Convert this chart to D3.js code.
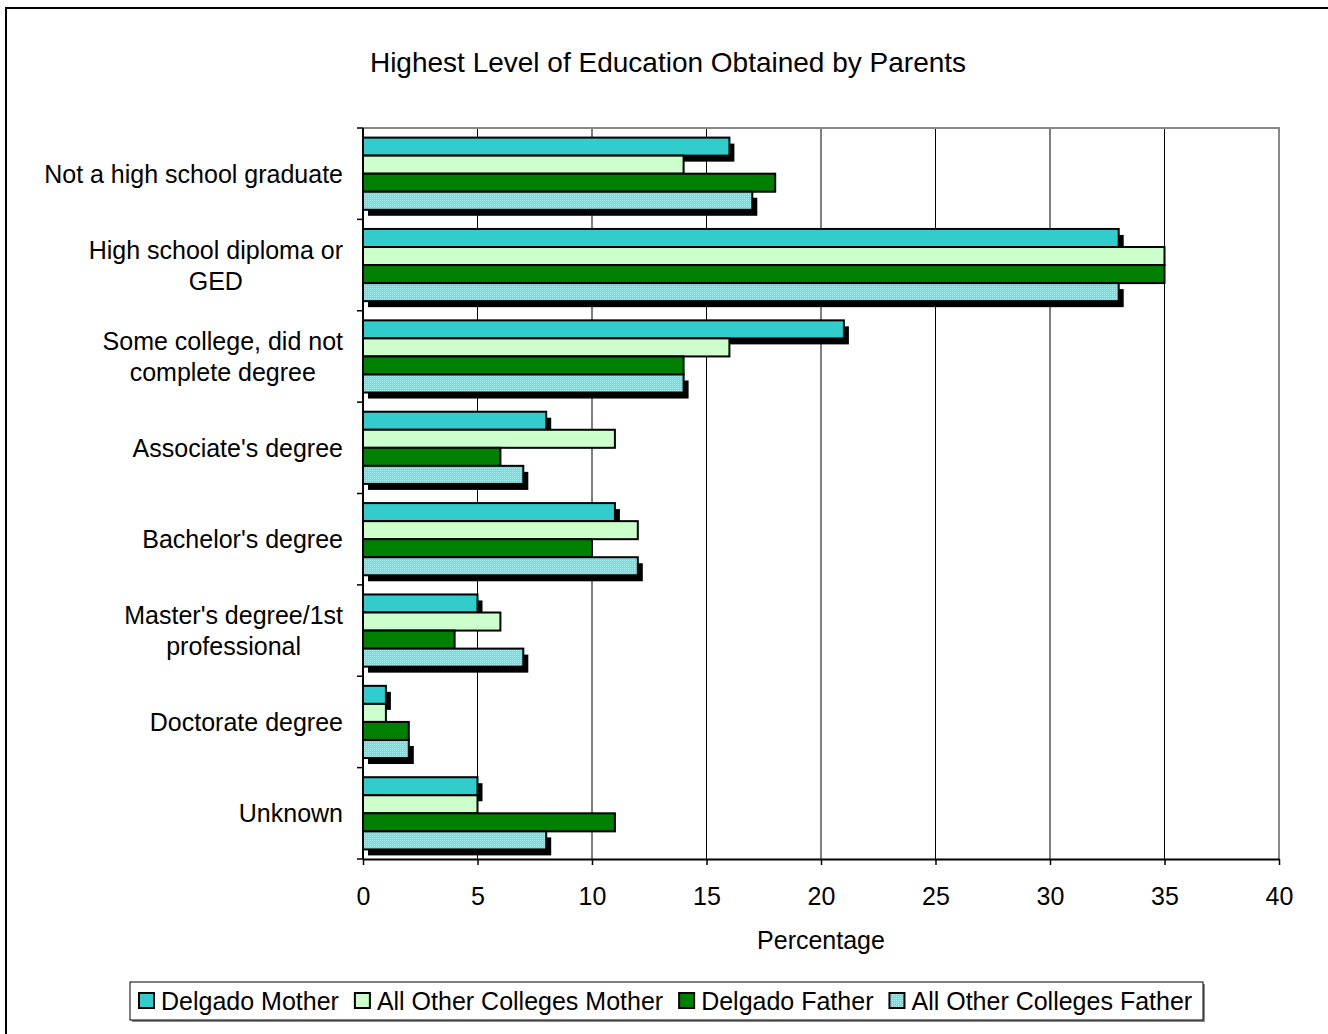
<!DOCTYPE html>
<html><head><meta charset="utf-8">
<script src="https://cdn.jsdelivr.net/npm/d3@7"></script>
<style>body{margin:0;background:#fff}svg{display:block;font-family:Arial,"Liberation Sans",sans-serif}</style>
</head><body>
<svg id="c" width="1328" height="1034"></svg>
<script>
const title = "Highest Level of Education Obtained by Parents";
const categories = [
  ["Not a high school graduate"],
  ["High school diploma or","GED"],
  ["Some college, did not","complete degree"],
  ["Associate's degree"],
  ["Bachelor's degree"],
  ["Master's degree/1st","professional"],
  ["Doctorate degree"],
  ["Unknown"]
];
const seriesNames = ["Delgado Mother","All Other Colleges Mother","Delgado Father","All Other Colleges Father"];
const delgadoMother = [16,33,21,8,11,5,1,5];
const otherMother   = [14,35,16,11,12,6,1,5];
const delgadoFather = [18,35,14,6,10,4,2,11];
const otherFather   = [17,33,14,7,12,7,2,8];
const xTicks = [0,5,10,15,20,25,30,35,40];
const xTitle = "Percentage";

const series = [delgadoMother, otherMother, delgadoFather, otherFather];
const fills = ["#33CCCC","#CCFFCC","#008000","url(#dots)"];
const shadowed = [true,false,false,true];
const FS = 25;

const svg = d3.select("#c");
const defs = svg.append("defs");
const pat = defs.append("pattern").attr("id","dots").attr("width",2).attr("height",2).attr("patternUnits","userSpaceOnUse");
pat.append("rect").attr("width",2).attr("height",2).attr("fill","#6ee0e0").attr("shape-rendering","crispEdges");
pat.append("rect").attr("width",1).attr("height",1).attr("fill","#a4f0f0").attr("shape-rendering","crispEdges");

// outer chart border
svg.append("rect").attr("x",6).attr("y",8).attr("width",1400).attr("height",1100)
  .attr("fill","none").attr("stroke","#000").attr("stroke-width",2);

const L=363, R=1279, T=128, B=859;
const x = d3.scaleLinear().domain([0,40]).range([L,R]);
const y = d3.scaleBand().domain(d3.range(categories.length)).range([T,B]).paddingInner(0.21).paddingOuter(0.105);
const ys = d3.scaleBand().domain(d3.range(4)).range([0,y.bandwidth()]);

// title
svg.append("text").attr("x",668).attr("y",72).attr("text-anchor","middle").attr("font-size",28).text(title);

// gridlines
svg.append("g").selectAll("line").data(xTicks.slice(1,-1)).join("line")
  .attr("x1",d=>x(d)).attr("x2",d=>x(d)).attr("y1",T).attr("y2",B).attr("stroke","#000").attr("stroke-width",1);
// plot border top/right gray
svg.append("path").attr("d",`M${L},${T}H${R}V${B}`).attr("fill","none").attr("stroke","#888").attr("stroke-width",2);

// bars
const g = svg.append("g");
series.forEach((vals,si)=>{
  const sg = g.append("g");
  vals.forEach((v,ci)=>{
    const yy = y(ci)+ys(si);
    if(shadowed[si]) {
      sg.append("rect").attr("x",x(0)+5).attr("y",yy+6).attr("width",x(v)-x(0)).attr("height",ys.bandwidth()).attr("fill","#000");
    }
  });
  vals.forEach((v,ci)=>{
    const yy = y(ci)+ys(si);
    sg.append("rect").attr("x",x(0)).attr("y",yy).attr("width",x(v)-x(0)).attr("height",ys.bandwidth())
      .attr("fill",fills[si]).attr("stroke","#000").attr("stroke-width",2);
  });
});

// axes
const xa = svg.append("g").attr("transform",`translate(0,${B})`)
  .call(d3.axisBottom(x).tickValues(xTicks).tickSize(6).tickSizeOuter(0));
xa.select(".domain").attr("stroke","#000").attr("stroke-width",2);
xa.selectAll(".tick line").attr("stroke","#000").attr("stroke-width",1.5);
xa.selectAll(".tick text").attr("font-size",FS).attr("font-family","Arial, Liberation Sans, sans-serif")
  .attr("fill","#000").attr("y",46).attr("dy",0);

const yTickPos = d3.range(categories.length+1).map(i=>T+(B-T)*i/categories.length);
svg.append("g").selectAll("line").data(yTickPos).join("line")
  .attr("x1",L-6).attr("x2",L).attr("y1",d=>d).attr("y2",d=>d).attr("stroke","#000").attr("stroke-width",1.5);
svg.append("line").attr("x1",L).attr("x2",L).attr("y1",T).attr("y2",B).attr("stroke","#000").attr("stroke-width",2);

// category labels
categories.forEach((lines,ci)=>{
  const cy = y(ci)+y.bandwidth()/2;
  const tg = svg.append("g");
  const lh = 31;
  const texts = lines.map((ln,i)=>tg.append("text").attr("font-size",FS).attr("text-anchor","middle")
     .attr("y", cy + (i-(lines.length-1)/2)*lh + 9).text(ln));
  const maxW = d3.max(texts,t=>t.node().getComputedTextLength());
  texts.forEach(t=>t.attr("x",343-maxW/2));
});

// x title
svg.append("text").attr("x",(L+R)/2).attr("y",949).attr("text-anchor","middle").attr("font-size",FS).text(xTitle);

// legend
const lg = svg.append("g");
lg.append("rect").attr("x",132).attr("y",984).attr("width",1073).attr("height",38).attr("fill","#888");
lg.append("rect").attr("x",130).attr("y",982).attr("width",1073).attr("height",38).attr("fill","#fff").attr("stroke","#000").attr("stroke-width",1);
let lx = 139;
seriesNames.forEach((n,i)=>{
  lg.append("rect").attr("x",lx).attr("y",993).attr("width",15).attr("height",15)
    .attr("fill",fills[i]).attr("stroke","#000").attr("stroke-width",2);
  const t = lg.append("text").attr("x",lx+22).attr("y",1010).attr("font-size",FS).text(n);
  lx = lx + 22 + t.node().getComputedTextLength() + 16;
});
</script>
</body></html>
